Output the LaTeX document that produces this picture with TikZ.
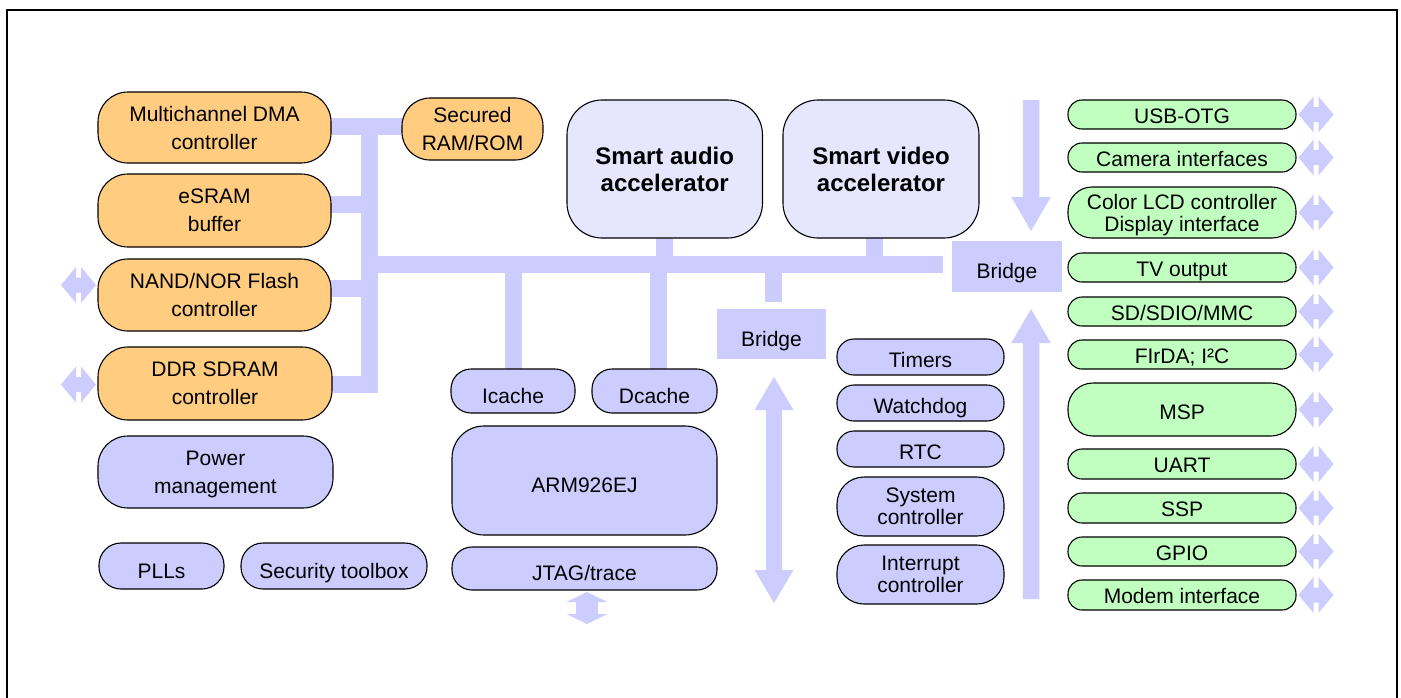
\documentclass[tikz,border=0pt]{standalone}
\usepackage{fontspec}
\setmainfont{Liberation Sans}
\definecolor{orangec}{RGB}{255,204,128}
\definecolor{bluec}{RGB}{204,204,255}
\definecolor{lightc}{RGB}{230,230,255}
\definecolor{greenc}{RGB}{192,255,192}
\pgfdeclarelayer{bg}
\pgfsetlayers{bg,main}
\tikzset{
  box/.style={draw=black, line width=1.1pt, align=center, inner sep=0pt,
    text depth=0pt, font=\fontsize{21}{28}\selectfont},
  obox/.style={box, fill=orangec},
  bbox/.style={box, fill=bluec},
  gbox/.style={box, fill=greenc, minimum width=228pt},
  mbox/.style={box, fill=bluec, minimum width=167pt},
  accbox/.style={box, fill=lightc, font=\fontsize{24}{27}\bfseries\selectfont,
    minimum width=196pt, minimum height=138pt, rounded corners=35pt},
  bridgebox/.style={fill=bluec, inner sep=0pt, text depth=0pt, text height=24pt,
    font=\fontsize{21}{28}\selectfont},
  tight/.style={font=\fontsize{21}{22}\selectfont},
  bus/.style={draw=bluec, line width=17pt},
}
\newcommand\hdarr[2]{\fill[bluec] (#1,#2) -- ++(15,-18) -- ++(0,10.5) -- ++(5,0) -- ++(0,-10.5) -- ++(15,18) -- ++(-15,18) -- ++(0,-10.5) -- ++(-5,0) -- ++(0,10.5) -- cycle;}
\newcommand\vdarr[6]{\fill[bluec] (#1,#2) -- ({#1+#5},{#2+#4}) -- ({#1+#6},{#2+#4}) -- ({#1+#6},{#3-#4}) -- ({#1+#5},{#3-#4}) -- (#1,#3) -- ({#1-#5},{#3-#4}) -- ({#1-#6},{#3-#4}) -- ({#1-#6},{#2+#4}) -- ({#1-#5},{#2+#4}) -- cycle;}
\begin{document}
\begin{tikzpicture}[x=1pt,y=-1pt]
\useasboundingbox (0,0) rectangle (1401,697);
\begin{pgfonlayer}{bg}
\fill[white] (0,0) rectangle (1401,697);
\end{pgfonlayer}
\draw[line width=2pt] (7,720) -- (7,10) -- (1397,10) -- (1397,720);

% left column
\node[obox, minimum width=233pt, minimum height=71pt, rounded corners=30pt] (dma) at (214.5,127.5) {Multichannel DMA\\controller};
\node[obox, minimum width=233pt, minimum height=73pt, rounded corners=30pt] (esram) at (214.5,210.5) {eSRAM\\buffer};
\node[obox, minimum width=233pt, minimum height=72pt, rounded corners=30pt] (nand) at (214.5,295) {NAND/NOR Flash\\controller};
\node[obox, minimum width=234pt, minimum height=73pt, rounded corners=30pt] (ddr) at (215,383.5) {DDR SDRAM\\controller};
\node[obox, minimum width=141pt, minimum height=62pt, rounded corners=28pt] (sec) at (472.5,129) {Secured\\RAM/ROM};
\node[bbox, minimum width=235pt, minimum height=72pt, rounded corners=30pt] (power) at (215.5,472) {Power\\management};
\node[bbox, minimum width=125pt, minimum height=46pt, rounded corners=22pt, text height=25pt] (plls) at (161.5,566) {PLLs};
\node[bbox, minimum width=186pt, minimum height=46pt, rounded corners=22pt, text height=25pt] (sectool) at (334,566) {Security toolbox};

% CPU
\node[bbox, minimum width=124pt, minimum height=44pt, rounded corners=20pt, text height=24pt] (icache) at (513,391) {Icache};
\node[bbox, minimum width=125pt, minimum height=44pt, rounded corners=20pt, text height=24pt] (dcache) at (654.5,391) {Dcache};
\node[bbox, minimum width=265pt, minimum height=109pt, rounded corners=32pt, text height=23.5pt] (arm) at (584.5,480.5) {ARM926EJ};
\node[bbox, minimum width=265pt, minimum height=43pt, rounded corners=20pt, text height=23pt] (jtag) at (584.5,568.5) {JTAG/trace};

% accelerators
\node[accbox, minimum width=195.5pt] (audio) at (664.75,169) {Smart audio\\accelerator};
\node[accbox] (video) at (881,169) {Smart video\\accelerator};

% bridges
\node[bridgebox, minimum width=109pt, minimum height=50pt] (bridge1) at (771.5,334) {Bridge};
\node[bridgebox, minimum width=110pt, minimum height=51pt] (bridge2) at (1007,266.5) {Bridge};

% middle column
\node[mbox, minimum height=36pt, rounded corners=17pt, text height=20pt] (timers) at (920.5,357) {Timers};
\node[mbox, minimum height=36pt, rounded corners=17pt, text height=20pt] (watchdog) at (920.5,403) {Watchdog};
\node[mbox, minimum height=36pt, rounded corners=17pt, text height=20pt] (rtc) at (920.5,449) {RTC};
\node[mbox, tight, minimum height=59pt, rounded corners=27pt] (sysctrl) at (920.5,506.5) {System\\controller};
\node[mbox, tight, minimum height=59pt, rounded corners=27pt] (intctrl) at (920.5,574.5) {Interrupt\\controller};

% right column
\node[gbox, minimum height=29pt, rounded corners=14pt, text height=17.5pt] (usb) at (1182,114.5) {USB-OTG};
\node[gbox, minimum height=29pt, rounded corners=14pt, text height=17.5pt] (cam) at (1182,157.5) {Camera interfaces};
\node[gbox, tight, minimum height=51pt, rounded corners=24pt] (lcd) at (1182,212.5) {Color LCD controller\\Display interface};
\node[gbox, minimum height=29pt, rounded corners=14pt, text height=17.5pt] (tv) at (1182,267.5) {TV output};
\node[gbox, minimum height=29pt, rounded corners=14pt, text height=17.5pt] (sd) at (1182,311.5) {SD/SDIO/MMC};
\node[gbox, minimum height=29pt, rounded corners=14pt, text height=17.5pt] (firda) at (1182,354.5) {FIrDA; I²C};
\node[gbox, minimum height=53pt, rounded corners=25pt, text height=19pt] (msp) at (1182,409.5) {MSP};
\node[gbox, minimum height=30pt, rounded corners=14pt, text height=17.5pt] (uart) at (1182,464) {UART};
\node[gbox, minimum height=30pt, rounded corners=14pt, text height=17.5pt] (ssp) at (1182,508) {SSP};
\node[gbox, minimum height=29pt, rounded corners=14pt, text height=17.5pt] (gpio) at (1182,551.5) {GPIO};
\node[gbox, minimum height=30pt, rounded corners=14pt, text height=17.5pt] (modem) at (1182,595) {Modem interface};

\begin{pgfonlayer}{bg}
  % left bus
  \coordinate (vtop) at (369,118);
  \coordinate (vbot) at (369,393);
  \coordinate (jdma) at (369,126.5);
  \coordinate (jes) at (369,204);
  \coordinate (jnand) at (369,288.5);
  \coordinate (jddr) at (369,384.5);
  \coordinate (busl) at (361,264.5);
  \coordinate (busr) at (943,264.5);
  \draw[bus] (vtop) -- (vbot);
  \draw[bus] (dma.center |- jdma) -- (sec.center |- jdma);
  \draw[bus] (esram.center |- jes) -- (jes);
  \draw[bus] (nand.center |- jnand) -- (jnand);
  \draw[bus] (ddr.center |- jddr) -- (jddr);
  \draw[bus] (busl) -- (busr);
  \draw[bus] (audio.center) -- (audio.center |- busl);
  \draw[bus] ([xshift=-6.5pt]video.center) -- ([xshift=-6.5pt]video.center |- busl);
  \draw[bus] (icache.center) -- (icache.center |- busl);
  \draw[bus] ([xshift=4pt]dcache.center) -- ([xshift=4pt]dcache.center |- busl);
  \draw[bus] ([xshift=2pt,yshift=7pt]bridge1.north) -- ([xshift=2pt]bridge1.north |- busl);
  % block arrows
  \hdarr{61}{285}
  \hdarr{61}{384.5}
  \foreach \n in {usb,cam,lcd,tv,sd,firda,msp,uart,ssp,gpio,modem}{
    \path (\n.east) coordinate (t);
    \fill[bluec] ([xshift=2pt]t) -- ++(15,-18) -- ++(0,10.5) -- ++(5,0) -- ++(0,-10.5) -- ++(15,18) -- ++(-15,18) -- ++(0,-10.5) -- ++(-5,0) -- ++(0,10.5) -- cycle;
  }
  \vdarr{587}{592}{624}{10}{20.5}{11}
  \vdarr{774}{377}{603}{33}{19.5}{8}
  \fill[bluec] (1022.75,100) -- (1039.25,100) -- (1039.25,197) -- (1050.75,197) -- (1031,231) -- (1011.25,197) -- (1022.75,197) -- cycle;
  \fill[bluec] (1031,309) -- (1050.75,343) -- (1039.25,343) -- (1039.25,599) -- (1022.75,599) -- (1022.75,343) -- (1011.25,343) -- cycle;
\end{pgfonlayer}
\end{tikzpicture}
\end{document}
